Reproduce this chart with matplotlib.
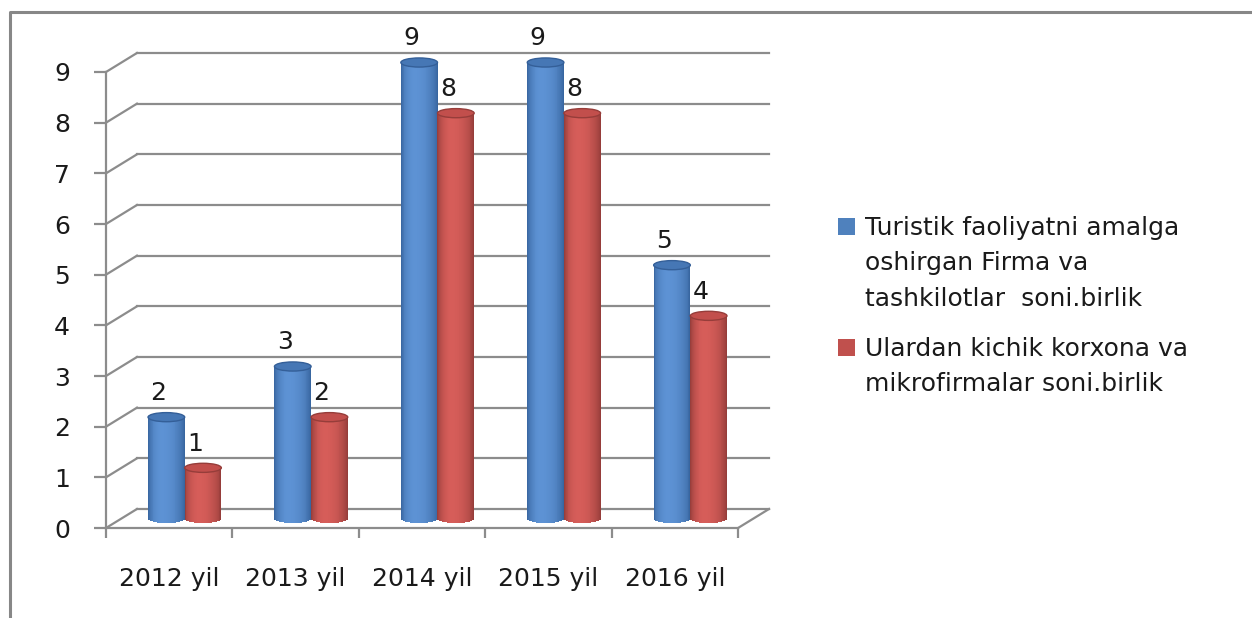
import numpy as np
import matplotlib.pyplot as plt
from matplotlib import patches, colors as mcolors
from matplotlib.lines import Line2D

years = ["2012 yil", "2013 yil", "2014 yil", "2015 yil", "2016 yil"]
firms = [2, 3, 9, 9, 5]
small = [1, 2, 8, 8, 4]
legend_labels = ["Turistik faoliyatni amalga\noshirgan Firma va\ntashkilotlar  soni.birlik",
                 "Ulardan kichik korxona va\nmikrofirmalar soni.birlik"]
yticks = list(range(0, 10))

plt.rcParams['font.family'] = ['DejaVu Sans']
FS = 18
TXT = '#1a1a1a'
GRID = '#8c8c8c'

W, H = 1252, 618
fig = plt.figure(figsize=(W / 100, H / 100), dpi=100)


def fx(x):
    return x / W


def fy(y):
    return 1 - y / H


# depth of the 3-d box, in data units
DX, DY = 0.245, 0.375
n = len(years)

ax = fig.add_axes([fx(106), fy(528), fx(769) - fx(106), fy(53) - fy(528)])
ax.set_xlim(-0.5, n - 0.5 + DX)
ax.set_ylim(0, 9 + DY)
ax.patch.set_visible(False)

# back wall gridlines, left wall diagonals, floor
x0, x1 = -0.5, n - 0.5
for v in yticks:
    ax.plot([x0 + DX, x1 + DX], [v + DY, v + DY], color=GRID, lw=1.6, clip_on=False, zorder=1)
    ax.plot([x0, x0 + DX], [v, v + DY], color=GRID, lw=1.6, clip_on=False, zorder=1)
ax.plot([x1, x1 + DX], [0, DY], color=GRID, lw=1.6, clip_on=False, zorder=1)

for s in ['top', 'right']:
    ax.spines[s].set_visible(False)
ax.spines['left'].set_bounds(0, 9)
ax.spines['bottom'].set_bounds(x0, x1)
for s in ['left', 'bottom']:
    ax.spines[s].set_color(GRID)
    ax.spines[s].set_linewidth(1.6)

ax.set_yticks(yticks)
ax.tick_params(axis='y', direction='out', length=9, width=1.6, color=GRID,
               pad=17, labelsize=FS, labelcolor=TXT)
ax.set_xticks(range(n))
ax.set_xticklabels(years)
ax.set_xticks(np.arange(n + 1) - 0.5, minor=True)
ax.tick_params(axis='x', which='major', length=0, pad=28, labelsize=FS, labelcolor=TXT)
ax.tick_params(axis='x', which='minor', direction='out', length=7, width=1.6, color=GRID)


def cylinder(xc, v, w, dark, light, top_face, top_edge):
    nstrip = 40
    edges = np.linspace(xc - w / 2, xc + w / 2, nstrip + 1)
    mids = (edges[:-1] + edges[1:]) / 2
    u = (mids - edges[0]) / w
    t = np.where(u < 0.38, 1 - ((0.38 - u) / 0.38) ** 2, 1 - ((u - 0.38) / 0.62) ** 2)
    t = np.clip(t, 0, 1) ** 0.7
    d = np.array(mcolors.to_rgb(dark))
    l = np.array(mcolors.to_rgb(light))
    cols = d[None, :] + (l - d)[None, :] * t[:, None]
    base = DY / 2
    eh = 0.18
    bottoms = base - eh / 2 * np.sqrt(np.clip(1 - (2 * u - 1) ** 2, 0, 1))
    ax.bar(mids, v + base - bottoms, width=w / nstrip * 1.08, bottom=bottoms,
           color=cols, linewidth=0, zorder=3, clip_on=False)
    ax.add_patch(patches.Ellipse((xc, base + v), w, eh, facecolor=top_face,
                                 edgecolor=top_edge, lw=1.0, zorder=4, clip_on=False))
    ax.annotate(str(v), (xc, base + v), xytext=(-8, 24), textcoords='offset pixels',
                ha='center', va='center', fontsize=FS, color=TXT, zorder=5)


bw = 0.29
for i in range(n):
    cylinder(i - bw / 2 + DX / 2, firms[i], bw, '#34619a', '#5d92d4', '#4677b5', '#345f98')
    cylinder(i + bw / 2 + DX / 2, small[i], bw, '#8e3936', '#d65d59', '#c24f4c', '#963d3a')

# legend
leg_colors = ['#4f81bd', '#c0504d']
leg_first = [226, 347]
for lab, c, yc in zip(legend_labels, leg_colors, leg_first):
    fig.patches.append(patches.Rectangle((fx(838), fy(yc + 8.5)), 17 / W, 17 / H,
                                         transform=fig.transFigure, facecolor=c, edgecolor='none'))
    fig.text(fx(865), fy(yc - 10), lab, ha='left', va='top', fontsize=FS, color=TXT,
             linespacing=1.6)

# chart frame (left and top edges visible)
fig.add_artist(Line2D([fx(10), fx(10), fx(W + 5)], [fy(H + 5), fy(12), fy(12)],
                      transform=fig.transFigure, color='#878787', lw=2.2))

fig.savefig('out.png', dpi=100)
